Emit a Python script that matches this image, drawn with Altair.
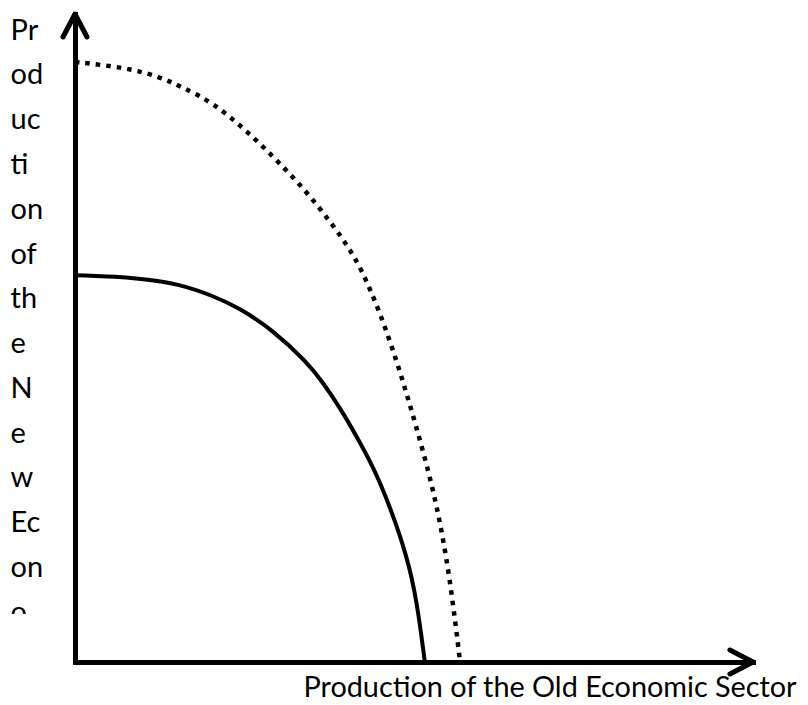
import altair as alt
import pandas as pd

# Original production possibilities frontier (solid)
solid_x = [0, 0.96, 1.55, 2.04, 2.43, 2.92, 3.42, 3.66, 3.91, 4.16, 4.40, 4.65, 4.90, 5.04, 5.16]
solid_y = [5.97, 5.93, 5.83, 5.65, 5.46, 5.12, 4.63, 4.31, 3.92, 3.47, 3.01, 2.39, 1.62, 0.96, 0]

# Shifted frontier (dotted)
dotted_x = [0, 0.77, 1.25, 1.58, 2.04, 2.54, 3.02, 3.50, 3.97, 4.22, 4.50, 4.75, 4.94, 5.13, 5.34, 5.53, 5.68]
dotted_y = [9.26, 9.17, 9.03, 8.87, 8.63, 8.19, 7.70, 7.16, 6.51, 6.08, 5.39, 4.63, 3.97, 3.27, 2.42, 1.31, 0]

# Axis titles (the y title is broken into short pieces, as in the original text box)
y_title_parts = ["Pr", "od", "uc", "ti", "on", "of", "th", "e", "N", "e", "w", "Ec", "on", "o"]
x_title = "Production of the Old Economic Sector"

# Arrow heads (open chevrons) at the ends of the axes
arrow_x = [-0.177, 0, 0.177, 9.66, 10, 9.66]
arrow_y = [9.645, 10, 9.645, 0.185, 0, -0.185]
arrow_id = ["y", "y", "y", "x", "x", "x"]
arrow_i = [0, 1, 2, 0, 1, 2]

# White mask that cuts off the overflowing last piece of the y title
mask_x, mask_x2, mask_y, mask_y2 = [-1.0], [-0.3], [0.40], [0.74]

FONT = "Lato"

solid_df = pd.DataFrame({"x": solid_x, "y": solid_y, "i": range(len(solid_x))})
dotted_df = pd.DataFrame({"x": dotted_x, "y": dotted_y, "i": range(len(dotted_x))})
arrow_df = pd.DataFrame({"x": arrow_x, "y": arrow_y, "arrow": arrow_id, "i": arrow_i})
mask_df = pd.DataFrame({"x": mask_x, "x2": mask_x2, "y": mask_y, "y2": mask_y2})

xs = alt.Scale(domain=[0, 10], nice=False, zero=False)
ys = alt.Scale(domain=[0, 10], nice=False, zero=False)

x_axis = alt.Axis(
    title=x_title, labels=False, ticks=False, grid=False,
    domainColor="black", domainWidth=5, domainCap="square",
    titleFont=FONT, titleFontSize=28.8, titleFontWeight="normal", titleColor="black",
    titleAlign="left", titleBaseline="alphabetic", titleX=228, titleY=34,
)
y_axis = alt.Axis(
    title=y_title_parts, labels=False, ticks=False, grid=False,
    domainColor="black", domainWidth=5, domainCap="square",
    titleFont=FONT, titleFontSize=29, titleFontWeight="normal", titleColor="black",
    titleAngle=0, titleAlign="left", titleBaseline="alphabetic",
    titleX=-65, titleY=25, titleLineHeight=44.8,
)

X = alt.X("x:Q", scale=xs, axis=x_axis)
Y = alt.Y("y:Q", scale=ys, axis=y_axis)

solid = alt.Chart(solid_df).mark_line(
    color="black", strokeWidth=4, interpolate="basis", strokeCap="butt"
).encode(x=X, y=Y, order="i:Q")

dotted = alt.Chart(dotted_df).mark_line(
    color="black", strokeWidth=4.5, interpolate="basis",
    strokeDash=[4.5, 6], strokeCap="butt"
).encode(x=X, y=Y, order="i:Q")

arrows = alt.Chart(arrow_df).mark_line(
    color="black", strokeWidth=5, strokeCap="round", strokeJoin="round"
).encode(x=X, y=Y, detail="arrow:N", order="i:Q")

mask = alt.Chart(mask_df).mark_rect(color="white").encode(
    x=X, x2="x2:Q", y=Y, y2="y2:Q",
)

chart = alt.layer(solid, dotted, arrows, mask).properties(
    width=678,
    height=648,
    padding={"left": 67, "top": 6, "right": 47, "bottom": 41},
    autosize=alt.AutoSizeParams(type="none"),
    background="white",
).configure_view(stroke=None)

chart.save("out.html", embed_options={"renderer": "svg", "actions": False})
